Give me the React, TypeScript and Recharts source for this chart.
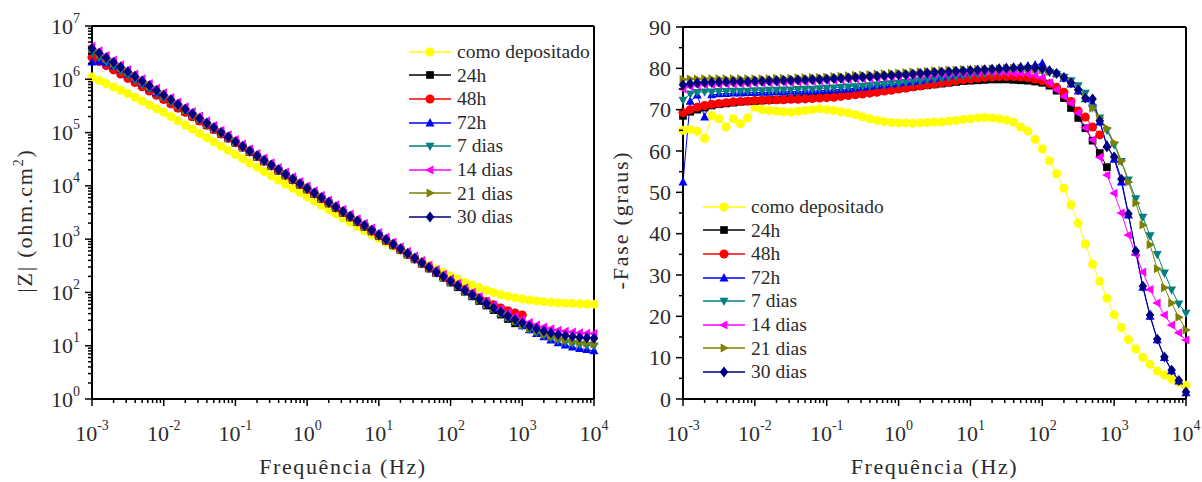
import React from 'react';
import { LineChart, Line, XAxis, YAxis, Legend } from 'recharts';

const FONT = '"Liberation Serif", "DejaVu Serif", serif';
const TEXT = '#2b2b2b';
const MARK = 9;

// Frequencies (Hz), 10 points per decade
const FREQ = [
  0.001, 0.00126, 0.00158, 0.002, 0.00251, 0.00316, 0.00398, 0.00501, 0.00631, 0.00794,
  0.01, 0.0126, 0.0158, 0.02, 0.0251, 0.0316, 0.0398, 0.0501, 0.0631, 0.0794,
  0.1, 0.126, 0.158, 0.2, 0.251, 0.316, 0.398, 0.501, 0.631, 0.794,
  1, 1.26, 1.58, 2, 2.51, 3.16, 3.98, 5.01, 6.31, 7.94,
  10, 12.6, 15.8, 20, 25.1, 31.6, 39.8, 50.1, 63.1, 79.4,
  100, 126, 158, 200, 251, 316, 398, 501, 631, 794,
  1000, 1260, 1580, 2000, 2510, 3160, 3980, 5010, 6310, 7940,
  10000,
];

const NAMES = ['como depositado', '24h', '48h', '72h', '7 dias', '14 dias', '21 dias', '30 dias'];
const COLORS = ['#FFFF00', '#000000', '#FF0000', '#0000FF', '#008080', '#FF00FF', '#808000', '#000080'];
const SHAPES = ['circle', 'square', 'circle', 'up', 'down', 'left', 'right', 'diamond'];

// |Z| (ohm.cm2)
const Z_COMO = [
  1.1e6, 9.5e5, 8.3e5, 7.2e5, 6.3e5, 5.4e5, 4.6e5, 3.9e5, 3.3e5, 2.8e5,
  2.4e5, 2.0e5, 1.66e5, 1.39e5, 1.16e5, 9.62e4, 8.02e4, 6.68e4, 5.56e4, 4.63e4,
  3.86e4, 3.21e4, 2.68e4, 2.23e4, 1.86e4, 1.55e4, 1.29e4, 1.07e4, 8.95e3, 7.45e3,
  6.21e3, 5.17e3, 4.31e3, 3.59e3, 2.99e3, 2.49e3, 2.07e3, 1.73e3, 1.44e3, 1.2e3,
  1023, 864, 730, 618, 524, 445, 378, 322, 276, 237,
  205, 178, 156, 137, 122, 110, 99.6, 91.5, 84.9, 79.6,
  75.3, 72.0, 69.3, 67.2, 65.5, 64.0, 62.9, 62.1, 61.3, 60.8,
  60.3,
];
const Z_24H = [
  2.85e6, 2.36e6, 1.96e6, 1.62e6, 1.34e6, 1.11e6, 9.19e5, 7.61e5, 6.3e5, 5.21e5,
  4.31e5, 3.56e5, 2.95e5, 2.44e5, 2.01e5, 1.67e5, 1.37e5, 1.14e5, 9.39e4, 7.77e4,
  6.42e4, 5.25e4, 4.29e4, 3.51e4, 2.87e4, 2.35e4, 1.92e4, 1.57e4, 1.28e4, 1.05e4,
  8.57e3, 7.0e3, 5.73e3, 4.68e3, 3.83e3, 3.13e3, 2.56e3, 2.09e3, 1.71e3, 1.4e3,
  1.15e3, 935, 765, 625, 512, 419, 344, 281, 230, 188,
  153, 125, 103, 84.3, 69.0, 56.6, 46.5, 38.3, 31.7, 26.3,
];
const Z_48H = [
  2.58e6, 2.16e6, 1.8e6, 1.5e6, 1.25e6, 1.04e6, 8.67e5, 7.22e5, 6.01e5, 5.0e5,
  4.16e5, 3.45e5, 2.87e5, 2.39e5, 1.98e5, 1.65e5, 1.37e5, 1.14e5, 9.41e4, 7.82e4,
  6.49e4, 5.31e4, 4.34e4, 3.54e4, 2.9e4, 2.37e4, 1.94e4, 1.58e4, 1.3e4, 1.06e4,
  8.66e3, 7.08e3, 5.79e3, 4.73e3, 3.87e3, 3.17e3, 2.59e3, 2.12e3, 1.74e3, 1.42e3,
  1.16e3, 945, 773, 632, 518, 424, 352, 288, 237, 195,
  162, 134, 112, 93.8, 79.2, 67.6, 58.5, 51.1, 45.5, 41.2,
  37.9,
];
const Z_72H = [
  2.09e6, 2.18e6, 2.03e6, 1.77e6, 1.53e6, 1.25e6, 1.02e6, 8.35e5, 6.83e5, 5.58e5,
  5.07e5, 4.14e5, 3.39e5, 2.77e5, 2.26e5, 1.85e5, 1.51e5, 1.24e5, 1.01e5, 8.27e4,
  6.76e4, 5.53e4, 4.52e4, 3.69e4, 3.02e4, 2.47e4, 2.02e4, 1.65e4, 1.35e4, 1.1e4,
  9.02e3, 7.37e3, 6.03e3, 4.93e3, 4.03e3, 3.29e3, 2.69e3, 2.2e3, 1.8e3, 1.47e3,
  1.2e3, 983, 804, 657, 537, 439, 360, 294, 241, 197,
  161, 132, 108, 89.0, 73.1, 60.0, 49.6, 40.8, 33.9, 28.2,
  23.6, 19.9, 16.9, 14.6, 12.7, 11.3, 10.3, 9.4, 8.8, 8.4,
  8.0,
];
const Z_7D = [
  3.12e6, 2.57e6, 2.12e6, 1.75e6, 1.44e6, 1.19e6, 9.78e5, 8.06e5, 6.65e5, 5.47e5,
  4.51e5, 3.71e5, 3.06e5, 2.52e5, 2.07e5, 1.71e5, 1.41e5, 1.16e5, 9.55e4, 7.88e4,
  6.49e4, 5.31e4, 4.34e4, 3.54e4, 2.9e4, 2.37e4, 1.94e4, 1.58e4, 1.3e4, 1.06e4,
  8.66e3, 7.08e3, 5.79e3, 4.73e3, 3.87e3, 3.17e3, 2.59e3, 2.12e3, 1.74e3, 1.42e3,
  1.16e3, 945, 773, 632, 518, 424, 347, 284, 233, 190,
  155, 127, 104, 85.5, 70.3, 58.3, 48.3, 40.0, 33.4, 28.1,
  23.7, 20.3, 17.6, 15.5, 13.9, 12.7, 11.7, 11.0, 10.5, 10.1,
  9.9,
];
const Z_14D = [
  4.18e6, 3.42e6, 2.79e6, 2.29e6, 1.87e6, 1.53e6, 1.25e6, 1.02e6, 8.35e5, 6.82e5,
  5.58e5, 4.55e5, 3.73e5, 3.05e5, 2.49e5, 2.04e5, 1.66e5, 1.36e5, 1.11e5, 9.1e4,
  7.44e4, 6.08e4, 4.97e4, 4.06e4, 3.32e4, 2.72e4, 2.22e4, 1.82e4, 1.49e4, 1.21e4,
  9.92e3, 8.11e3, 6.63e3, 5.42e3, 4.43e3, 3.62e3, 2.96e3, 2.42e3, 1.98e3, 1.62e3,
  1.33e3, 1.08e3, 884, 723, 591, 483, 398, 326, 268, 220,
  180, 148, 122, 101, 83.5, 69.4, 58.0, 48.8, 41.5, 35.6,
  30.9, 27.4, 24.5, 22.5, 20.8, 19.6, 18.7, 18.0, 17.5, 17.2,
  16.9,
];
const Z_21D = [
  3.69e6, 3.02e6, 2.46e6, 2.02e6, 1.65e6, 1.35e6, 1.1e6, 9.0e5, 7.36e5, 6.01e5,
  4.92e5, 4.02e5, 3.29e5, 2.69e5, 2.19e5, 1.79e5, 1.46e5, 1.2e5, 9.8e4, 8.02e4,
  6.56e4, 5.36e4, 4.38e4, 3.58e4, 2.93e4, 2.4e4, 1.96e4, 1.6e4, 1.31e4, 1.07e4,
  8.75e3, 7.15e3, 5.85e3, 4.78e3, 3.91e3, 3.2e3, 2.62e3, 2.14e3, 1.75e3, 1.43e3,
  1.17e3, 955, 782, 639, 523, 428, 350, 286, 235, 192,
  157, 129, 106, 87.2, 71.9, 59.1, 49.2, 40.7, 34.1, 28.8,
  24.5, 21.1, 18.5, 16.3, 14.8, 13.6, 12.6, 12.0, 11.4, 11.1,
  10.8,
];
const Z_30D = [
  3.8e6, 3.11e6, 2.54e6, 2.08e6, 1.7e6, 1.39e6, 1.14e6, 9.28e5, 7.59e5, 6.2e5,
  5.07e5, 4.14e5, 3.39e5, 2.77e5, 2.26e5, 1.85e5, 1.51e5, 1.24e5, 1.01e5, 8.27e4,
  6.76e4, 5.53e4, 4.52e4, 3.69e4, 3.02e4, 2.47e4, 2.02e4, 1.65e4, 1.35e4, 1.1e4,
  9.02e3, 7.37e3, 6.03e3, 4.93e3, 4.03e3, 3.3e3, 2.7e3, 2.21e3, 1.81e3, 1.48e3,
  1.21e3, 985, 806, 660, 540, 441, 361, 295, 242, 199,
  163, 134, 110, 90.7, 74.9, 62.0, 51.7, 43.2, 36.5, 31.2,
  26.9, 23.5, 20.9, 18.9, 17.4, 16.2, 15.5, 14.8, 14.4, 14.0,
  13.8,
];

// -Fase (graus)
const PH_COMO = [
  65.0, 65.2, 64.8, 63.0, 68.6, 67.8, 65.8, 67.8, 66.6, 68.0,
  70.6, 70.0, 69.8, 69.6, 69.5, 69.4, 69.6, 69.8, 70.0, 70.2,
  70.0, 69.8, 69.5, 69.2, 68.8, 68.3, 67.8, 67.4, 67.1, 66.9,
  66.8, 66.8, 66.7, 66.8, 66.9, 67.0, 67.0, 67.2, 67.4, 67.6,
  67.8, 68.0, 68.1, 68.0, 67.8, 67.5, 67.0, 65.8, 64.8, 62.8,
  60.5, 57.6, 54.5, 51.0, 47.0, 42.5, 37.5, 32.6, 28.5, 24.4,
  20.4, 17.3, 14.4, 12.1, 10.1, 8.4, 6.8, 5.8, 4.8, 4.0,
  3.3,
];
const PH_24H = [
  68.5, 69.5, 70.0, 70.5, 71.0, 71.3, 71.5, 71.7, 71.9, 72.0,
  72.1, 72.2, 72.3, 72.4, 72.5, 72.6, 72.7, 72.8, 72.9, 73.0,
  73.1, 73.3, 73.5, 73.7, 73.9, 74.1, 74.3, 74.5, 74.7, 74.9,
  75.1, 75.3, 75.5, 75.7, 75.9, 76.1, 76.3, 76.5, 76.7, 76.9,
  77.0, 77.1, 77.2, 77.3, 77.3, 77.3, 77.2, 77.1, 77.0, 76.8,
  76.5, 75.8, 74.6, 72.8, 70.4, 68.0, 65.5, 62.5, 59.5, 56.1,
];
const PH_48H = [
  69.3, 70.0, 70.6, 71.0, 71.3, 71.5, 71.7, 71.9, 72.0, 72.1,
  72.2, 72.3, 72.3, 72.4, 72.4, 72.5, 72.5, 72.6, 72.7, 72.8,
  72.9, 73.0, 73.2, 73.4, 73.6, 73.8, 74.0, 74.2, 74.5, 74.7,
  75.0, 75.2, 75.5, 75.7, 76.0, 76.2, 76.5, 76.7, 77.0, 77.2,
  77.4, 77.6, 77.8, 77.9, 78.0, 78.0, 78.0, 77.9, 77.7, 77.4,
  77.0, 76.3, 75.4, 74.2, 72.0, 69.7, 68.2, 65.8, 63.9,
];
const PH_72H = [
  52.5, 72.0, 73.5, 68.2, 73.6, 73.8, 73.9, 74.0, 74.0, 74.1,
  74.1, 74.2, 74.2, 74.3, 74.3, 74.4, 74.4, 74.5, 74.5, 74.6,
  74.7, 74.8, 74.9, 75.0, 75.2, 75.4, 75.6, 75.8, 76.0, 76.2,
  76.4, 76.6, 76.8, 77.0, 77.3, 77.6, 77.9, 78.2, 78.5, 78.8,
  79.1, 79.4, 79.6, 79.8, 80.0, 80.2, 80.3, 80.4, 80.6, 80.8,
  81.2, 79.6, 78.8, 77.6, 76.2, 74.5, 72.6, 71.5, 67.0, 61.5,
  58.0, 52.5, 44.5, 35.5, 27.0, 20.0, 14.3, 10.0, 6.8, 4.3,
  1.5,
];
const PH_7D = [
  72.3, 73.8, 74.2, 74.3, 74.3, 74.4, 74.4, 74.5, 74.5, 74.5,
  74.6, 74.6, 74.7, 74.7, 74.8, 74.8, 74.9, 75.0, 75.0, 75.1,
  75.2, 75.3, 75.4, 75.5, 75.6, 75.7, 75.8, 76.0, 76.1, 76.3,
  76.4, 76.6, 76.8, 77.0, 77.2, 77.4, 77.6, 77.8, 78.0, 78.2,
  78.4, 78.6, 78.8, 79.0, 79.1, 79.2, 79.3, 79.3, 79.4, 79.4,
  79.3, 79.0, 78.6, 77.9, 77.0, 75.8, 74.0, 70.5, 68.0, 65.0,
  61.5, 57.5, 53.0, 48.5, 44.0, 39.5, 35.0, 30.5, 26.4, 23.0,
  20.8,
];
const PH_14D = [
  75.0, 75.6, 75.9, 76.0, 76.1, 76.1, 76.2, 76.2, 76.3, 76.3,
  76.4, 76.4, 76.5, 76.5, 76.6, 76.6, 76.7, 76.7, 76.8, 76.9,
  77.0, 77.1, 77.2, 77.3, 77.4, 77.5, 77.6, 77.7, 77.8, 77.9,
  78.0, 78.1, 78.2, 78.3, 78.4, 78.5, 78.6, 78.7, 78.8, 78.9,
  79.0, 79.0, 79.1, 79.1, 79.1, 79.0, 78.9, 78.8, 78.6, 78.3,
  77.8, 76.5, 74.8, 73.2, 71.6, 69.2, 65.6, 62.7, 58.5, 54.2,
  49.8, 45.0, 39.7, 35.0, 30.7, 26.5, 23.2, 20.3, 17.9, 16.0,
  14.3,
];
const PH_21D = [
  77.3, 77.4, 77.4, 77.5, 77.5, 77.5, 77.5, 77.5, 77.5, 77.5,
  77.5, 77.5, 77.5, 77.6, 77.6, 77.6, 77.7, 77.7, 77.8, 77.8,
  77.9, 78.0, 78.1, 78.2, 78.3, 78.4, 78.5, 78.6, 78.7, 78.8,
  78.9, 79.0, 79.1, 79.2, 79.3, 79.4, 79.5, 79.6, 79.6, 79.7,
  79.7, 79.8, 79.8, 79.9, 79.9, 80.0, 80.0, 80.0, 79.9, 79.8,
  79.6, 79.2, 78.6, 77.8, 76.6, 75.0, 73.0, 70.4, 68.0, 65.5,
  62.0, 57.6, 52.5, 47.4, 42.1, 37.3, 31.5, 26.9, 23.2, 19.8,
  16.7,
];
const PH_30D = [
  76.0, 76.3, 76.5, 76.6, 76.6, 76.7, 76.7, 76.8, 76.8, 76.8,
  76.9, 76.9, 77.0, 77.0, 77.1, 77.1, 77.2, 77.2, 77.3, 77.3,
  77.4, 77.5, 77.6, 77.7, 77.8, 77.9, 78.0, 78.1, 78.2, 78.3,
  78.4, 78.5, 78.6, 78.8, 78.9, 79.0, 79.1, 79.2, 79.3, 79.4,
  79.5, 79.6, 79.7, 79.8, 79.9, 80.0, 80.1, 80.1, 80.2, 80.2,
  80.0, 79.4, 78.8, 77.8, 76.5, 74.8, 72.8, 72.6, 67.3, 61.0,
  58.6, 53.2, 44.8, 35.8, 27.3, 20.3, 14.5, 10.2, 7.0, 4.5,
  1.7,
];

const Z_SERIES = [Z_COMO, Z_24H, Z_48H, Z_72H, Z_7D, Z_14D, Z_21D, Z_30D];
const PH_SERIES = [PH_COMO, PH_24H, PH_48H, PH_72H, PH_7D, PH_14D, PH_21D, PH_30D];

// Axis ticks
const X_DECADES = [0.001, 0.01, 0.1, 1, 10, 100, 1000, 10000];
const X_EXPONENTS = ['-3', '-2', '-1', '0', '1', '2', '3', '4'];
const Z_DECADES = [1, 10, 100, 1000, 1e4, 1e5, 1e6, 1e7];
const Z_EXPONENTS = ['0', '1', '2', '3', '4', '5', '6', '7'];
const MINOR_MULT = [2, 3, 4, 5, 6, 7, 8, 9];
const PHASE_MAJOR = [0, 10, 20, 30, 40, 50, 60, 70, 80, 90];
const PHASE_MINOR = [5, 15, 25, 35, 45, 55, 65, 75, 85];

const minorsOf = (decades: number[]) =>
  decades.slice(0, -1).flatMap((d) => MINOR_MULT.map((m) => m * d));
const X_TICKS = [...X_DECADES, ...minorsOf(X_DECADES)].sort((a, b) => a - b);
const Z_TICKS = [...Z_DECADES, ...minorsOf(Z_DECADES)].sort((a, b) => a - b);
const PH_TICKS = [...PHASE_MAJOR, ...PHASE_MINOR].sort((a, b) => a - b);

const decadeIndex = (list: number[], v: number) =>
  list.findIndex((d) => Math.abs(v / d - 1) < 1e-6);

const toPoints = (vals: number[]) => vals.map((v, i) => ({ f: FREQ[i], v }));

function Marker({ cx, cy, shape, color, size }: any) {
  const r = size / 2;
  switch (shape) {
    case 'circle':
      return <circle cx={cx} cy={cy} r={r} fill={color} />;
    case 'square':
      return <rect x={cx - r * 0.85} y={cy - r * 0.85} width={r * 1.7} height={r * 1.7} fill={color} />;
    case 'up':
      return <polygon points={`${cx},${cy - r * 1.1} ${cx - r},${cy + r * 0.75} ${cx + r},${cy + r * 0.75}`} fill={color} />;
    case 'down':
      return <polygon points={`${cx},${cy + r * 1.1} ${cx - r},${cy - r * 0.75} ${cx + r},${cy - r * 0.75}`} fill={color} />;
    case 'left':
      return <polygon points={`${cx - r * 1.1},${cy} ${cx + r * 0.75},${cy - r} ${cx + r * 0.75},${cy + r}`} fill={color} />;
    case 'right':
      return <polygon points={`${cx + r * 1.1},${cy} ${cx - r * 0.75},${cy - r} ${cx - r * 0.75},${cy + r}`} fill={color} />;
    default:
      return <polygon points={`${cx},${cy - r * 1.2} ${cx + r * 0.95},${cy} ${cx},${cy + r * 1.2} ${cx - r * 0.95},${cy}`} fill={color} />;
  }
}

const dotFor = (k: number) => (p: any) => {
  if (p.cx == null || p.cy == null) return <g key={`d${k}-${p.index}`} />;
  return <Marker key={`d${k}-${p.index}`} cx={p.cx} cy={p.cy} shape={SHAPES[k]} color={COLORS[k]} size={MARK} />;
};

const LogXTick = (p: any) => {
  const { x, y, payload } = p;
  const idx = decadeIndex(X_DECADES, payload.value);
  const major = idx >= 0;
  return (
    <g>
      <line x1={x} y1={y} x2={x} y2={y + (major ? 7 : 4)} stroke="#000" strokeWidth={1.5} />
      {major && (
        <text x={x} y={y + 42} textAnchor="middle" fontFamily={FONT} fontSize={22} fill={TEXT}>
          10<tspan dy={-11} fontSize={14}>{X_EXPONENTS[idx]}</tspan>
        </text>
      )}
    </g>
  );
};

const LogYTick = (p: any) => {
  const { x, y, payload } = p;
  const idx = decadeIndex(Z_DECADES, payload.value);
  const major = idx >= 0;
  return (
    <g>
      <line x1={x} y1={y} x2={x - (major ? 7 : 4)} y2={y} stroke="#000" strokeWidth={1.5} />
      {major && (
        <text x={x - 12} y={y + 7.5} textAnchor="end" fontFamily={FONT} fontSize={22} fill={TEXT}>
          10<tspan dy={-11} fontSize={14}>{Z_EXPONENTS[idx]}</tspan>
        </text>
      )}
    </g>
  );
};

const PhaseYTick = (p: any) => {
  const { x, y, payload } = p;
  const major = PHASE_MAJOR.includes(payload.value);
  return (
    <g>
      <line x1={x} y1={y} x2={x - (major ? 7 : 4)} y2={y} stroke="#000" strokeWidth={1.5} />
      {major && (
        <text x={x - 12} y={y + 7.5} textAnchor="end" fontFamily={FONT} fontSize={22} fill={TEXT}>
          {String(payload.value)}
        </text>
      )}
    </g>
  );
};

const vbOf = (p: any) => p.viewBox || { x: 0, y: 0, width: 0, height: 0 };

const XTitle = (p: any) => {
  const vb = vbOf(p);
  return (
    <text x={vb.x + vb.width / 2} y={vb.y + 75} textAnchor="middle" fontFamily={FONT} fontSize={22} letterSpacing={1.6} fill={TEXT}>
      Frequência (Hz)
    </text>
  );
};

const ZTitle = (p: any) => {
  const vb = vbOf(p);
  const x = vb.x + vb.width - 60;
  const y = vb.y + vb.height / 2 + 8;
  return (
    <text x={x} y={y} transform={`rotate(-90 ${x} ${y})`} textAnchor="middle" fontFamily={FONT} fontSize={22} letterSpacing={1.8} fill={TEXT}>
      |Z| (ohm.cm<tspan dy={-9} fontSize={14}>2</tspan><tspan dy={9}>)</tspan>
    </text>
  );
};

const PhTitle = (p: any) => {
  const vb = vbOf(p);
  const x = vb.x + vb.width - 55;
  const y = vb.y + vb.height / 2 + 7;
  return (
    <text x={x} y={y} transform={`rotate(-90 ${x} ${y})`} textAnchor="middle" fontFamily={FONT} fontSize={22} letterSpacing={1.8} fill={TEXT}>
      -Fase (graus)
    </text>
  );
};

const LegendBox = () => (
  <div style={{ fontFamily: FONT, fontSize: 19.5, color: TEXT }}>
    {NAMES.map((n, k) => (
      <div key={n} style={{ display: 'flex', alignItems: 'center', height: 23.6 }}>
        <svg width={43} height={24} style={{ flex: 'none', display: 'block' }}>
          <line x1={0} x2={42} y1={12} y2={12} stroke={COLORS[k]} strokeWidth={1.3} />
          <Marker cx={21} cy={12} shape={SHAPES[k]} color={COLORS[k]} size={MARK} />
        </svg>
        <span style={{ marginLeft: 5, whiteSpace: 'nowrap', lineHeight: '23.6px' }}>{n}</span>
      </div>
    ))}
  </div>
);

const axisLine = { stroke: '#000', strokeWidth: 2 };
const FRAME_X_TICKS = [0.001, 10000];
const FRAME_Y_TICKS = [0, 1];

export default function App() {
  return (
    <div style={{ position: 'absolute', left: 0, top: 0, width: 1202, height: 482, background: '#fff' }}>
      <div style={{ position: 'absolute', left: 0, top: 0 }}>
        <LineChart width={625} height={482} margin={{ top: 25, right: 30, bottom: 82, left: 91 }}>
          <XAxis
            dataKey="f" type="number" scale="log" domain={[0.001, 10000]} ticks={X_TICKS} interval={0}
            tick={(p: any) => <LogXTick {...p} />} tickLine={false} tickSize={0} tickMargin={0} height={1}
            axisLine={axisLine} label={{ content: (p: any) => <XTitle {...p} /> }}
          />
          <XAxis xAxisId="top" orientation="top" type="number" scale="log" domain={[0.001, 10000]} height={1}
            ticks={FRAME_X_TICKS} tick={false} tickLine={false} axisLine={axisLine} />
          <YAxis
            type="number" scale="log" domain={[1, 1e7]} ticks={Z_TICKS} interval={0}
            tick={(p: any) => <LogYTick {...p} />} tickLine={false} tickSize={0} tickMargin={0} width={1}
            axisLine={axisLine} label={{ content: (p: any) => <ZTitle {...p} /> }}
          />
          <YAxis yAxisId="right" orientation="right" type="number" domain={[0, 1]} width={1}
            ticks={FRAME_Y_TICKS} tick={false} tickLine={false} axisLine={axisLine} />
          {Z_SERIES.map((s, k) => (
            <Line
              key={NAMES[k]} name={NAMES[k]} data={toPoints(s)} dataKey="v" stroke={COLORS[k]} strokeWidth={1}
              dot={dotFor(k)} activeDot={false} isAnimationActive={false}
            />
          ))}
          <Legend layout="vertical" align="center" verticalAlign="middle"
            wrapperStyle={{ left: 409, top: 40, width: 190 }} content={() => <LegendBox />} />
        </LineChart>
      </div>
      <div style={{ position: 'absolute', left: 600, top: 0 }}>
        <LineChart width={602} height={482} margin={{ top: 26, right: 15, bottom: 82, left: 82 }}>
          <XAxis
            dataKey="f" type="number" scale="log" domain={[0.001, 10000]} ticks={X_TICKS} interval={0}
            tick={(p: any) => <LogXTick {...p} />} tickLine={false} tickSize={0} tickMargin={0} height={1}
            axisLine={axisLine} label={{ content: (p: any) => <XTitle {...p} /> }}
          />
          <XAxis xAxisId="top" orientation="top" type="number" scale="log" domain={[0.001, 10000]} height={1}
            ticks={FRAME_X_TICKS} tick={false} tickLine={false} axisLine={axisLine} />
          <YAxis
            type="number" domain={[0, 90]} ticks={PH_TICKS} interval={0}
            tick={(p: any) => <PhaseYTick {...p} />} tickLine={false} tickSize={0} tickMargin={0} width={1}
            axisLine={axisLine} label={{ content: (p: any) => <PhTitle {...p} /> }}
          />
          <YAxis yAxisId="right" orientation="right" type="number" domain={[0, 1]} width={1}
            ticks={FRAME_Y_TICKS} tick={false} tickLine={false} axisLine={axisLine} />
          {PH_SERIES.map((s, k) => (
            <Line
              key={NAMES[k]} name={NAMES[k]} data={toPoints(s)} dataKey="v" stroke={COLORS[k]} strokeWidth={1}
              dot={dotFor(k)} activeDot={false} isAnimationActive={false}
            />
          ))}
          <Legend layout="vertical" align="center" verticalAlign="middle"
            wrapperStyle={{ left: 103, top: 195, width: 190 }} content={() => <LegendBox />} />
        </LineChart>
      </div>
    </div>
  );
}
